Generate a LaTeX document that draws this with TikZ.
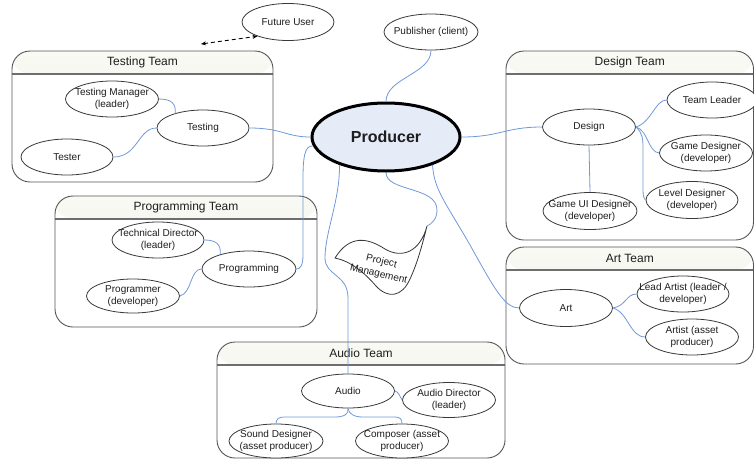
\documentclass[tikz,border=0pt]{standalone}
\usepackage{fontspec}
\setmainfont{Liberation Sans}
\usetikzlibrary{shapes.geometric,arrows.meta}

\definecolor{link}{HTML}{7098D8}
\definecolor{ellline}{HTML}{383838}
\definecolor{txt}{HTML}{1E1E1E}
\definecolor{teamline}{HTML}{555555}
\definecolor{hdtop}{HTML}{FAFAF5}
\definecolor{hdbot}{HTML}{E9EADF}
\definecolor{hdline}{HTML}{6E6E6E}
\definecolor{prodfill}{HTML}{E5EBF7}

\tikzset{
  team/.style={draw=teamline, line width=0.9pt, rounded corners=18pt, inner sep=0pt,
    path picture={
      \shade[top color=hdtop, bottom color=hdbot]
        (path picture bounding box.north west) rectangle
        ([yshift=-23pt]path picture bounding box.north east);
      \draw[hdline, line width=1.1pt]
        ([yshift=-23pt]path picture bounding box.north west) --
        ([yshift=-23pt]path picture bounding box.north east);
    }},
  teamtitle/.style={text=txt, font=\fontsize{12}{14}\selectfont, inner sep=0pt},
  ell/.style={ellipse, draw=ellline, line width=0.8pt, fill=white, inner sep=0pt,
    minimum width=93pt, minimum height=36pt},
  etext/.style={text=txt, font=\fontsize{10}{12.5}\selectfont, align=center, inner sep=0pt},
  conn/.style={draw=link, line width=0.8pt},
}

\begin{document}
\begin{tikzpicture}[x=1pt, y=-1pt]
\useasboundingbox (0,0) rectangle (754,461);

% ---- team containers ----
\node[team, minimum width=261pt, minimum height=131pt] (testteam) at (142.5,116.5) {};
\node[team, minimum width=262pt, minimum height=131pt] (progteam) at (186,261.5) {};
\node[team, minimum width=247.5pt, minimum height=189pt] (designteam) at (629.75,145.5) {};
\node[team, minimum width=247.5pt, minimum height=117pt] (artteam) at (629.75,305.5) {};
\node[team, minimum width=288pt, minimum height=116pt] (audioteam) at (361,400) {};

\node[teamtitle] (testteam-t) at ([yshift=-11.5pt]testteam.north) {Testing Team};
\node[teamtitle] (progteam-t) at ([yshift=-11.5pt]progteam.north) {Programming Team};
\node[teamtitle] (designteam-t) at ([yshift=-11.5pt]designteam.north) {Design Team};
\node[teamtitle] (artteam-t) at ([yshift=-11.5pt]artteam.north) {Art Team};
\node[teamtitle] (audioteam-t) at ([yshift=-11.5pt]audioteam.north) {Audio Team};

% ---- central node ----
\node[ellipse, draw=black, line width=3pt, fill=prodfill, inner sep=0pt,
      minimum width=148pt, minimum height=68pt] (producer) at (386,137) {};
\node[text=txt, font=\fontsize{16}{18}\selectfont\bfseries, inner sep=0pt] (producer-t) at (producer.center) {Producer};

% ---- outside stakeholders ----
\node[ell, minimum width=92pt, minimum height=37pt, label={[etext]center:Future User}] (future) at (288,22) {};
\node[ell, minimum width=94pt, label={[etext]center:Publisher (client)}] (publisher) at (431,32) {};

% ---- testing ----
\node[ell, label={[etext]center:{Testing Manager\\(leader)}}] (tm) at (112,99) {};
\node[ell, minimum width=92pt, label={[etext]center:Testing}] (testing) at (203,128) {};
\node[ell, minimum width=92pt, label={[etext]center:Tester}] (tester) at (67,157) {};

% ---- programming ----
\node[ell, minimum width=92pt, label={[etext]center:{Technical Director\\(leader)}}] (techdir) at (158,240) {};
\node[ell, minimum width=94pt, label={[etext]center:Programming}] (programming) at (249,269) {};
\node[ell, minimum height=34pt, label={[etext]center:{Programmer\\(developer)}}] (programmer) at (133,296) {};

% ---- design ----
\node[ell, label={[etext]center:Design}] (design) at (589,127) {};
\node[ell, minimum width=90pt, label={[etext]center:Team Leader}] (teamlead) at (712,100) {};
\node[ell, label={[etext]center:{Game Designer\\(developer)}}] (gamedes) at (706,153) {};
\node[ell, minimum width=92pt, minimum height=37pt, label={[etext]center:{Level Designer\\(developer)}}] (leveldes) at (692,200) {};
\node[ell, minimum width=94pt, minimum height=37pt, label={[etext]center:{Game UI Designer\\(developer)}}] (gameui) at (590,211) {};

% ---- art ----
\node[ell, minimum height=37pt, label={[etext]center:Art}] (art) at (566,308) {};
\node[ell, minimum width=92pt, label={[etext]center:{Lead Artist (leader /\\developer)}}] (leadartist) at (683,294) {};
\node[ell, label={[etext]center:{Artist (asset\\producer)}}] (artist) at (692,337) {};

% ---- audio ----
\node[ell, minimum height=34pt, label={[etext]center:Audio}] (audio) at (348,391) {};
\node[ell, minimum height=35pt, label={[etext]center:{Audio Director\\(leader)}}] (audiodir) at (449,400) {};
\node[ell, minimum width=94pt, minimum height=34pt, label={[etext]center:{Sound Designer\\(asset producer)}}] (sound) at (276,441) {};
\node[ell, minimum height=34pt, label={[etext]center:{Composer (asset\\producer)}}] (composer) at (402,441) {};

% ---- project management flag ----
\coordinate (pmtip) at (427,226);
\draw[ellline, line width=0.8pt, fill=white]
  (335,258) .. controls (350,234) and (368,238) .. (385,249)
            .. controls (402,259) and (420,252) .. (pmtip)
            .. controls (422,246) and (417,264) .. (410,279)
            .. controls (402,297) and (388,299) .. (376,286)
            .. controls (364,272) and (350,261) .. cycle;
\node[etext, rotate=-13, font=\fontsize{10}{13}\selectfont] (pm) at (380,268) {Project\\Management};

% ---- connectors from the producer ----
\draw[conn] (producer.north) .. controls (386,78) and (431,74) .. (publisher.south);
\draw[conn] (producer.east) .. controls (500,137) and (505,127) .. (design.west);
\draw[conn] (testing.east) .. controls (282,128) and (286,137) .. (producer.west);
\draw[conn] (producer.187) .. controls (304,145) and (303,160) .. (303,180)
            -- (303,255) .. controls (303,266) and (300,269) .. (programming.east);
\draw[conn] (producer.211) .. controls (340,200) and (325,232) .. (325,258)
            .. controls (325,276) and (348,274) .. (348,298) -- (audio.north);
\draw[conn] (producer.south) .. controls (386,192) and (437,186) .. (437,210)
            .. controls (437,220) and (431,224) .. (pmtip);
\draw[conn] (producer.329) .. controls (434,190) and (446,203) .. (470,245)
            .. controls (495,290) and (505,308) .. (art.west);

% ---- connectors inside the teams ----
\draw[conn] (tm.east) .. controls (172,99) and (176,104) .. (testing.152);
\draw[conn] (tester.east) .. controls (138,157) and (138,128) .. (testing.west);
\draw[conn] (techdir.east) .. controls (216,240) and (221,244) .. (programming.153);
\draw[conn] (programmer.east) .. controls (192,293) and (190,269) .. (programming.west);
\draw[conn] (design.east) .. controls (652,122) and (655,100) .. (teamlead.west);
\draw[conn] (design.east) .. controls (648,130) and (648,152) .. (gamedes.west);
\draw[conn] (design.east) .. controls (643,133) and (643,140) .. (643,150)
            -- (643,190) .. controls (643,196) and (644,199) .. (leveldes.west);
\draw[conn] (design.south) -- (gameui.north);
\draw[conn] (art.east) .. controls (626,306) and (626,294) .. (leadartist.west);
\draw[conn] (art.east) .. controls (628,312) and (630,337) .. (artist.west);
\draw[conn] (audio.east) .. controls (399,392) and (400,397) .. (audiodir.west);
\draw[conn] (audio.south) .. controls (349,414) and (344,417) .. (335,417)
            -- (284,417) .. controls (279,417) and (276,419) .. (sound.north);
\draw[conn] (audio.south) .. controls (349,414) and (354,417) .. (363,417)
            -- (395,417) .. controls (400,417) and (402,419) .. (composer.north);

% ---- dashed link from the future user ----
\coordinate (fu-end) at (201,44);
\draw[black, line width=0.9pt, dashed, dash pattern=on 4pt off 3pt,
      {Stealth[length=5pt,width=4pt]}-{Stealth[length=5pt,width=4pt]}]
  (fu-end) -- (future.205);
\end{tikzpicture}
\end{document}
